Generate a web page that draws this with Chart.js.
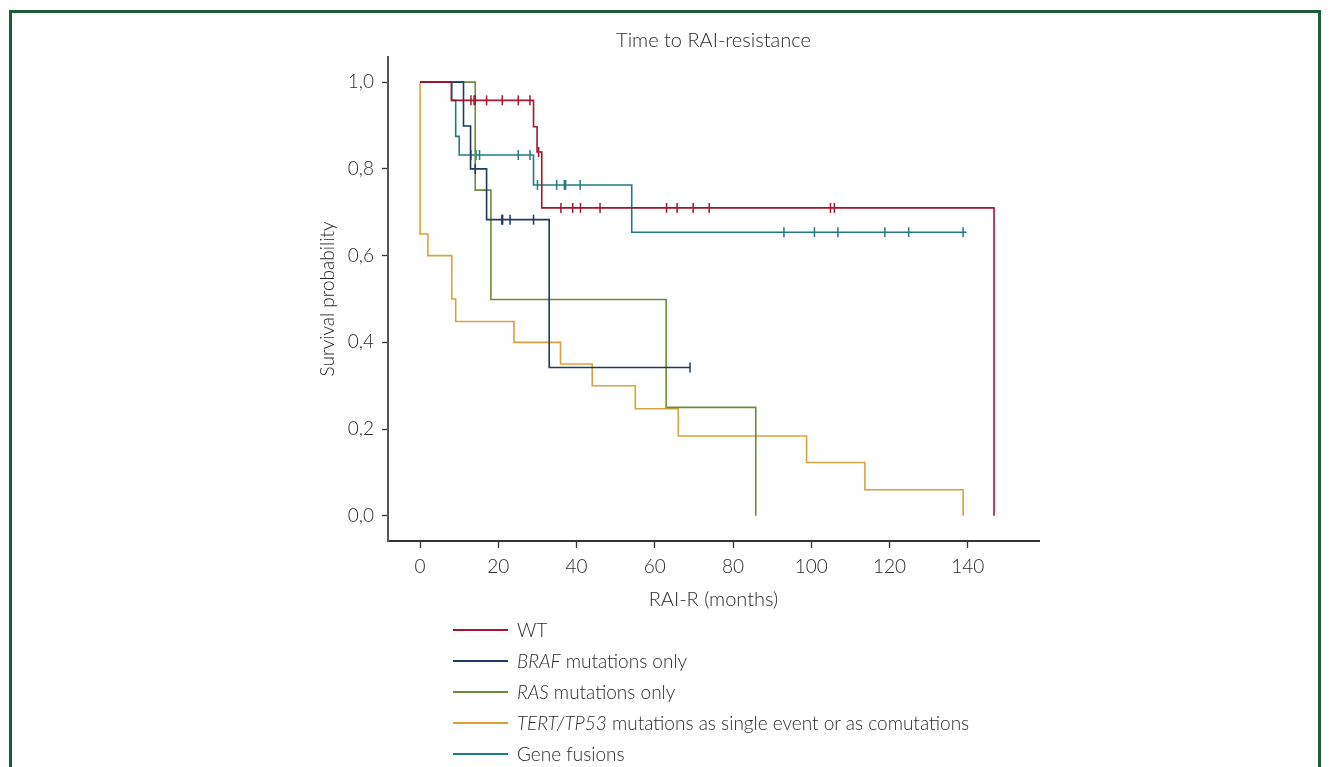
<!DOCTYPE html>
<html>
<head>
<meta charset="utf-8">
<script src="https://cdn.jsdelivr.net/npm/chart.js@4/dist/chart.umd.min.js"></script>
<style>
  body { margin: 0; background: #fff; }
  #wrap { position: relative; width: 1334px; height: 767px; overflow: hidden; }
  #frame { position: absolute; left: 9px; top: 10px; width: 1312px; height: 800px;
           border: 3px solid #1d5c38; box-sizing: border-box; }
  #chart { position: absolute; left: 0; top: 0; }
  #legend { position: absolute; left: 453px; top: 614px; font-family: Lato, "Open Sans", sans-serif;
            font-weight: 300; font-size: 19px; color: #2a2a2a; }
  #legend .row { height: 31px; display: flex; align-items: center; }
  #legend .sw { width: 55px; height: 2px; margin-right: 9px; }
</style>
</head>
<body>
<div id="wrap">
  <div id="frame"></div>
  <canvas id="chart" width="1334" height="767"></canvas>
  <div id="legend"></div>
</div>
<script>
// series labels (italic gene name + rest)
var seriesNames = ['WT', 'BRAF mutations only', 'RAS mutations only',
  'TERT/TP53 mutations as single event or as comutations', 'Gene fusions'];
var seriesItalic = ['', 'BRAF', 'RAS', 'TERT/TP53', ''];
var seriesColors = ['#a3162e', '#1c3a63', '#6b8a3a', '#d9a23f', '#227b81'];

// step curves: event times (months) and survival after each step
var wtTimes = [0, 8, 29.0, 29.9, 31.1, 146.7];
var wtSurv = [1, 0.958, 0.897, 0.839, 0.710, 0];
var brafTimes = [0, 11.1, 12.9, 17.0, 33.0, 69.0];
var brafSurv = [1, 0.899, 0.800, 0.683, 0.342, 0.342];
var rasTimes = [0, 14.1, 18.1, 62.9, 85.8];
var rasSurv = [1, 0.751, 0.499, 0.250, 0];
var tertTimes = [0, 0, 2.0, 8.1, 9.1, 24.0, 35.9, 44.0, 55.0, 66.0, 98.8, 113.7, 138.8];
var tertSurv = [1, 0.650, 0.600, 0.500, 0.448, 0.400, 0.350, 0.300, 0.247, 0.184, 0.123, 0.060, 0];
var fusTimes = [0, 8.1, 9.1, 10.0, 29.0, 54.1, 139.7];
var fusSurv = [1, 0.958, 0.875, 0.832, 0.763, 0.654, 0.654];

// censored observations
var wtCensT = [13.0, 13.8, 14.1, 17.0, 21.0, 25.1, 28.1, 30.3, 36.0, 39.0, 41.0, 46.0, 63.0, 65.7, 69.8, 73.9, 104.9, 105.9];
var wtCensS = [0.958, 0.958, 0.958, 0.958, 0.958, 0.958, 0.958, 0.839, 0.710, 0.710, 0.710, 0.710, 0.710, 0.710, 0.710, 0.710, 0.710, 0.710];
var brafCensT = [14.1, 20.9, 21.1, 23.0, 29.0, 69.0];
var brafCensS = [0.800, 0.683, 0.683, 0.683, 0.683, 0.342];
var rasCensT = [];
var rasCensS = [];
var tertCensT = [];
var tertCensS = [];
var fusCensT = [13.0, 14.3, 15.2, 25.1, 28.1, 30.0, 34.9, 36.9, 37.2, 40.9, 93.0, 100.8, 106.8, 118.8, 124.9, 138.8];
var fusCensS = [0.832, 0.832, 0.832, 0.832, 0.832, 0.763, 0.763, 0.763, 0.763, 0.763, 0.654, 0.654, 0.654, 0.654, 0.654, 0.654];

var xTicks = [0, 20, 40, 60, 80, 100, 120, 140];
var yTicks = [0, 0.2, 0.4, 0.6, 0.8, 1.0];

var curveT = [wtTimes, brafTimes, rasTimes, tertTimes, fusTimes];
var curveS = [wtSurv, brafSurv, rasSurv, tertSurv, fusSurv];
var censT = [wtCensT, brafCensT, rasCensT, tertCensT, fusCensT];
var censS = [wtCensS, brafCensS, rasCensS, tertCensS, fusCensS];

function pts(xs, ys) {
  return xs.map(function (x, i) { return { x: x, y: ys[i] }; });
}

var datasets = [];
for (var i = 0; i < seriesNames.length; i++) {
  datasets.push({
    type: 'line', label: seriesNames[i], data: pts(curveT[i], curveS[i]),
    stepped: 'before', borderColor: seriesColors[i], borderWidth: 1.6,
    pointRadius: 0, fill: false
  });
  datasets.push({
    type: 'scatter', label: seriesNames[i] + ' censored', data: pts(censT[i], censS[i]),
    pointStyle: 'line', rotation: 90, pointRadius: 5, borderWidth: 1.5,
    borderColor: seriesColors[i], backgroundColor: seriesColors[i], showLine: false
  });
}

var fontFam = 'Lato, "Open Sans", sans-serif';
var txt = '#2a2a2a';

var chart = new Chart(document.getElementById('chart'), {
  type: 'line',
  data: { datasets: datasets },
  options: {
    responsive: false,
    animation: false,
    layout: { padding: { left: 316, right: 295, top: 0, bottom: 151 } },
    plugins: {
      legend: { display: false },
      tooltip: { enabled: false },
      title: { display: false }
    },
    scales: {
      // empty top axis, only used to centre the chart title over the plot
      top: {
        type: 'linear', position: 'top', min: -8.2, max: 158.2,
        afterFit: function (s) { s.height = 57; },
        ticks: { display: false },
        grid: { display: false, drawTicks: false },
        border: { display: false },
        title: { display: true, text: 'Time to RAI-resistance', color: txt,
          font: { family: fontFam, size: 20, weight: 300 }, padding: { top: 29, bottom: 0 } }
      },
      x: {
        type: 'linear', min: -8.2, max: 158.2,
        afterBuildTicks: function (s) { s.ticks = xTicks.map(function (v) { return { value: v }; }); },
        afterFit: function (s) { s.height = 75; },
        ticks: { color: txt, font: { family: fontFam, size: 19, weight: 300 }, padding: 7 },
        grid: { drawOnChartArea: false, drawTicks: true, tickLength: 7, tickColor: '#333', tickWidth: 1.3 },
        border: { display: true, color: '#333', width: 2 },
        title: { display: true, text: 'RAI-R (months)', color: txt,
          font: { family: fontFam, size: 20, weight: 300 }, padding: { top: 0, bottom: 4 } }
      },
      y: {
        type: 'linear', min: -0.058, max: 1.058,
        afterBuildTicks: function (s) { s.ticks = yTicks.map(function (v) { return { value: v }; }); },
        afterFit: function (s) { s.width = 72; },
        ticks: { color: txt, font: { family: fontFam, size: 19, weight: 300 }, padding: 8,
          callback: function (v) { return v.toFixed(1).replace('.', ','); } },
        grid: { drawOnChartArea: false, drawTicks: true, tickLength: 6, tickColor: '#333', tickWidth: 1.3 },
        border: { display: true, color: '#555', width: 2 },
        title: { display: true, text: 'Survival probability', color: txt,
          font: { family: fontFam, size: 19, weight: 300 }, padding: { top: 0, bottom: 0 } }
      }
    }
  }
});

// legend with italic gene names
var lg = document.getElementById('legend');
for (var k = 0; k < seriesNames.length; k++) {
  var row = document.createElement('div');
  row.className = 'row';
  var sw = document.createElement('span');
  sw.className = 'sw';
  sw.style.background = seriesColors[k];
  row.appendChild(sw);
  var lab = document.createElement('span');
  var it = seriesItalic[k];
  if (it) {
    var em = document.createElement('i');
    em.textContent = it;
    lab.appendChild(em);
    lab.appendChild(document.createTextNode(seriesNames[k].slice(it.length)));
  } else {
    lab.textContent = seriesNames[k];
  }
  row.appendChild(lab);
  lg.appendChild(row);
}
</script>
</body>
</html>
